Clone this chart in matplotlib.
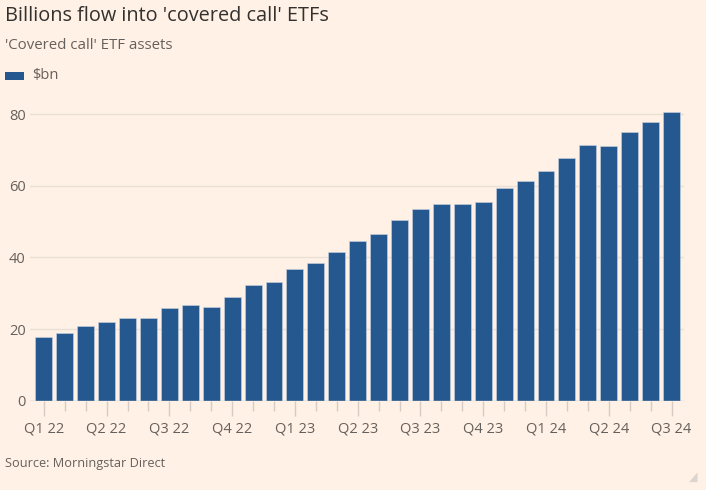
import matplotlib
matplotlib.use("Agg")
import matplotlib.pyplot as plt

# monthly 'covered call' ETF assets, Jan 2022 - Jul 2024 ($bn)
months = list(range(31))
assets = [17.9, 18.8, 20.9, 21.9, 23.2, 23.2, 25.8, 26.7, 26.3, 29.0,
          32.3, 33.1, 36.9, 38.5, 41.6, 44.5, 46.6, 50.5, 53.6, 54.8,
          55.0, 55.5, 59.3, 61.3, 64.1, 67.7, 71.3, 71.0, 75.0, 77.7, 80.6]
quarter_labels = ["Q1 22", "Q2 22", "Q3 22", "Q4 22", "Q1 23", "Q2 23",
                  "Q3 23", "Q4 23", "Q1 24", "Q2 24", "Q3 24"]
yticks = [0, 20, 40, 60, 80]

bg = "#fff1e5"
bar_col = "#265890"
grey = "#66605c"
plt.rcParams['font.family'] = ['Open Sans', 'DejaVu Sans']

fig = plt.figure(figsize=(7.06, 4.9), dpi=100, facecolor=bg)
ax = fig.add_axes([0.0425, 0.1822, 0.9265, 0.5994], facecolor=bg)

ax.bar(months, assets, width=0.81, color=bar_col, edgecolor="#c9d3e0", linewidth=0.4, zorder=3)

ax.set_xlim(-0.66, 30.6)
ax.set_ylim(0, 82)
ax.set_yticks(yticks)
ax.set_yticklabels([str(v) for v in yticks])
ax.grid(axis="y", color="#eadfd5", linewidth=1, zorder=0)
ax.axhline(0, color="#d6ccc4", linewidth=1, zorder=4)

ax.set_xticks(months[::3])
ax.set_xticklabels(quarter_labels)
ax.set_xticks(months, minor=True)
ax.tick_params(axis="x", which="major", length=11, color="#d6ccc4", width=1,
               labelsize=10.5, labelcolor=grey, pad=4)
ax.tick_params(axis="x", which="minor", length=7, color="#d6ccc4", width=1)
ax.tick_params(axis="y", length=0, labelsize=10.5, labelcolor=grey, pad=3)
for s in ax.spines.values():
    s.set_visible(False)

fig.text(0.007, 0.968, "Billions flow into 'covered call' ETFs", fontsize=14.3,
         color="#33302e", va="center")
fig.text(0.007, 0.907, "'Covered call' ETF assets", fontsize=10.8, color=grey, va="center")
fig.patches.append(plt.Rectangle((0.007, 0.837), 0.027, 0.016, transform=fig.transFigure,
                                 facecolor=bar_col, edgecolor="none"))
fig.text(0.045, 0.845, "$bn", fontsize=10.5, color=grey, va="center")
fig.text(0.007, 0.055, "Source: Morningstar Direct", fontsize=9.2, color=grey, va="center")
# little resize corner mark bottom right
fig.patches.append(plt.Polygon([(0.988, 0.016), (0.988, 0.036), (0.976, 0.016)],
                               transform=fig.transFigure, facecolor="#dcd5cf", edgecolor="none"))

fig.savefig("out.png", dpi=100, facecolor=bg)
